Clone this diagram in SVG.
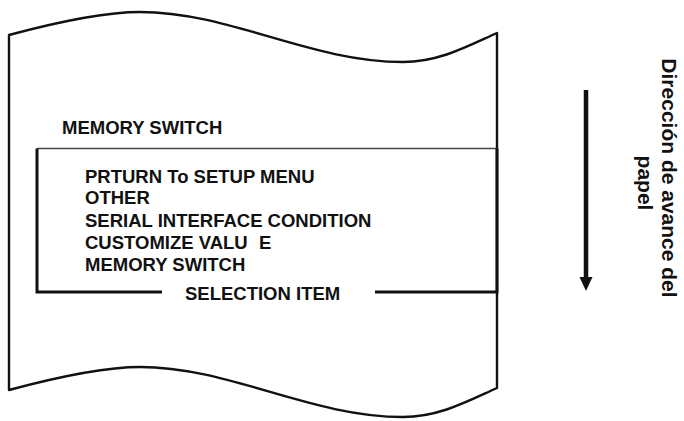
<svg xmlns="http://www.w3.org/2000/svg" width="684" height="421" viewBox="0 0 684 421">
  <style>
    .edge { fill: none; stroke: #111; stroke-width: 2.4; stroke-linejoin: round; }
    .t { font-family: "Liberation Sans", Arial, Helvetica, sans-serif; font-weight: bold; font-size: 18.5px; fill: #111; }
    .v { font-family: "Liberation Sans", Arial, Helvetica, sans-serif; font-weight: bold; font-size: 21px; fill: #111; text-anchor: middle; }
  </style>
  <rect width="684" height="421" fill="#fff"/>
  <g id="paper">
    <path class="edge" d="M9,35 C50,24 100,12 140,12 C230,12 310,62 403,62 C440,62 470,45 497,33 L497,388 C470,400 440,417 403,417 C310,417 230,367 140,367 C100,367 50,379 9,390 Z"/>
  </g>
  <g id="title">
    <text class="t" x="62" y="134">MEMORY SWITCH</text>
  </g>
  <g id="selection-box">
    <path d="M37,148.5 L497,148.5" fill="none" stroke="#444" stroke-width="1.6"/>
    <path d="M37,148.5 L37,292 L162,292 M375,292 L497,292 L497,148.5" fill="none" stroke="#111" stroke-width="3"/>
    <text class="t" x="85" y="182.7">PRTURN To SETUP MENU</text>
    <text class="t" x="85" y="204.4">OTHER</text>
    <text class="t" x="85" y="226.7">SERIAL INTERFACE CONDITION</text>
    <text class="t" x="85" y="248.7">CUSTOMIZE VALU <tspan x="259">E</tspan></text>
    <text class="t" x="85" y="271">MEMORY SWITCH</text>
    <text class="t" x="185" y="300">SELECTION ITEM</text>
  </g>
  <g id="connectors">
    <line x1="586" y1="90" x2="586" y2="279" stroke="#111" stroke-width="4.5"/>
    <polygon points="579.5,277 592.5,277 586,291" fill="#111"/>
  </g>
  <g id="direction-label">
    <text class="v" transform="translate(662,178) rotate(90)">Dirección de avance del</text>
    <text class="v" transform="translate(638,183) rotate(90)">papel</text>
  </g>
</svg>
